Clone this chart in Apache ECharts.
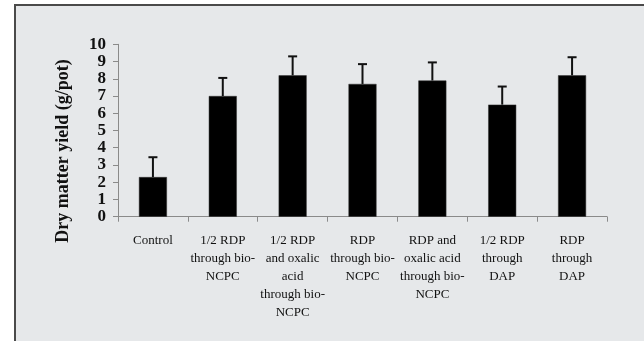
<!DOCTYPE html>
<html>
<head>
<meta charset="utf-8">
<script src="https://cdn.jsdelivr.net/npm/echarts@6/dist/echarts.min.js"></script>
<style>
  html, body { margin: 0; padding: 0; background: #ffffff; }
  #chart { width: 644px; height: 341px; }
</style>
</head>
<body>
<div id="chart"></div>
<script>
// Treatments and dry matter yield (g/pot) with standard error
var categories = [
  'Control',
  '1/2 RDP\nthrough bio-\nNCPC',
  '1/2 RDP\nand oxalic\nacid\nthrough bio-\nNCPC',
  'RDP\nthrough bio-\nNCPC',
  'RDP and\noxalic acid\nthrough bio-\nNCPC',
  '1/2 RDP\nthrough\nDAP',
  'RDP\nthrough\nDAP'
];
var yieldValues = [2.3, 7.0, 8.2, 7.7, 7.9, 6.5, 8.2];
var errorValues = [1.15, 1.05, 1.1, 1.15, 1.05, 1.05, 1.05];
var yTicks = [0, 1, 2, 3, 4, 5, 6, 7, 8, 9, 10];

var chart = echarts.init(document.getElementById('chart'), null, { renderer: 'canvas' });

var errorData = yieldValues.map(function (v, i) { return [i, v, v + errorValues[i]]; });

chart.setOption({
  backgroundColor: '#ffffff',
  animation: false,
  graphic: [
    {
      type: 'rect',
      shape: { x: 15, y: 5, width: 640, height: 350 },
      style: { fill: '#e6e8ea', stroke: '#4a4a4a', lineWidth: 2 },
      z: -10
    },
    {
      type: 'text',
      x: 63,
      y: 151,
      rotation: Math.PI / 2,
      style: {
        text: 'Dry matter yield (g/pot)',
        font: 'bold 18px "Liberation Serif", "Times New Roman", serif',
        fill: '#111111',
        textAlign: 'center',
        textVerticalAlign: 'middle'
      }
    }
  ],
  grid: { left: 118, right: 37, top: 44.3, bottom: 124.3 },
  xAxis: {
    type: 'category',
    data: categories,
    axisLine: { lineStyle: { color: '#8a8a8a', width: 1 } },
    axisTick: { show: true, length: 5, lineStyle: { color: '#8a8a8a' } },
    axisLabel: {
      interval: 0,
      margin: 15,
      color: '#111111',
      fontFamily: '"Liberation Serif", "Times New Roman", serif',
      fontSize: 13,
      lineHeight: 18,
      align: 'center'
    }
  },
  yAxis: {
    type: 'value',
    min: yTicks[0],
    max: yTicks[yTicks.length - 1],
    interval: 1,
    axisLine: { show: true, lineStyle: { color: '#8a8a8a', width: 1 } },
    axisTick: { show: true, length: 5, lineStyle: { color: '#8a8a8a' } },
    splitLine: { show: false },
    axisLabel: {
      margin: 12,
      color: '#111111',
      fontFamily: '"Liberation Serif", "Times New Roman", serif',
      fontWeight: 'bold',
      fontSize: 17
    }
  },
  series: [
    {
      type: 'bar',
      data: yieldValues,
      barWidth: 28,
      itemStyle: { color: '#000000', borderColor: '#333333', borderWidth: 0.5 }
    },
    {
      type: 'custom',
      data: errorData,
      z: 3,
      renderItem: function (params, api) {
        var x = api.value(0);
        var base = api.coord([x, api.value(1)]);
        var top = api.coord([x, api.value(2)]);
        var cap = 4.5;
        var style = { stroke: '#111111', lineWidth: 2 };
        return {
          type: 'group',
          children: [
            { type: 'line', shape: { x1: base[0], y1: base[1], x2: top[0], y2: top[1] }, style: style },
            { type: 'line', shape: { x1: top[0] - cap, y1: top[1], x2: top[0] + cap, y2: top[1] }, style: style }
          ]
        };
      }
    }
  ]
});
</script>
</body>
</html>
